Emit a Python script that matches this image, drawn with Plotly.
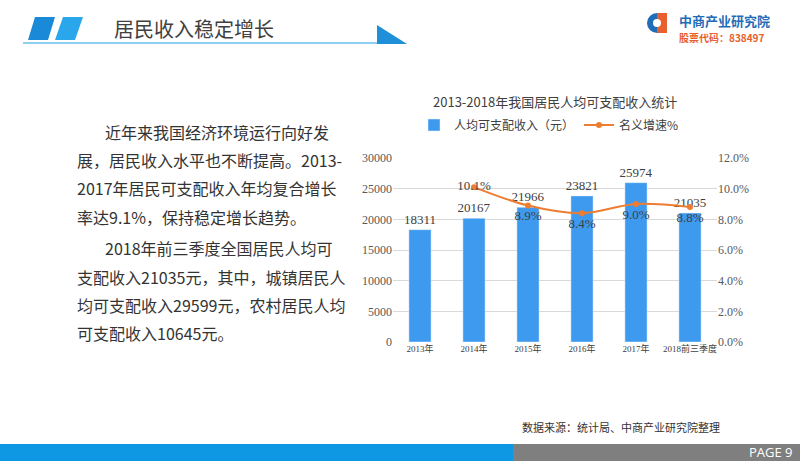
import plotly.graph_objects as go

# chart data
years = ["2013年", "2014年", "2015年", "2016年", "2017年", "2018前三季度"]
income = [18311, 20167, 21966, 23821, 25974, 21035]
growth_years = ["2014年", "2015年", "2016年", "2017年", "2018前三季度"]
growth = [0.101, 0.089, 0.084, 0.090, 0.088]
growth_pos = ["middle center", "bottom center", "bottom center", "bottom center", "bottom center"]

body_lines = [
    "近年来我国经济环境运行向好发",
    "展，居民收入水平也不断提高。2013-",
    "2017年居民可支配收入年均复合增长",
    "率达9.1%，保持稳定增长趋势。",
    "2018年前三季度全国居民人均可",
    "支配收入21035元，其中，城镇居民人",
    "均可支配收入29599元，农村居民人均",
    "可支配收入10645元。",
]
body_y = [132, 160, 188, 217, 248, 277, 305, 333]
body_x = [103, 75, 75, 75, 103, 75, 75, 75]

W, H = 800, 461
CJK = "Noto Sans CJK SC"
SERIF = "Liberation Serif, Noto Sans CJK SC"


def px(x):
    return x / W


def py(y):
    return 1 - y / H


fig = go.Figure()

fig.add_trace(go.Bar(
    x=years, y=income, name="人均可支配收入（元）",
    marker_color="#3D9AEE", width=0.41,
    text=income, textposition="outside", cliponaxis=False, constraintext="none",
    textfont=dict(family=SERIF, size=13, color="#404040"),
))
fig.add_trace(go.Scatter(
    x=growth_years, y=growth, name="名义增速%", yaxis="y2",
    mode="lines+markers+text",
    line=dict(color="#ED7D31", width=2, shape="spline"),
    marker=dict(color="#ED7D31", size=6),
    text=[f"{g * 100:.1f}%" for g in growth], textposition=growth_pos,
    textfont=dict(family=SERIF, size=13, color="#404040"),
    cliponaxis=False,
))

fig.update_layout(
    width=W, height=H, margin=dict(l=0, r=0, t=0, b=0),
    paper_bgcolor="white", plot_bgcolor="white",
    showlegend=True,
    legend=dict(orientation="h", x=px(414), y=py(125), xanchor="left", yanchor="middle",
                font=dict(family=CJK, size=12, color="#404040"), bgcolor="rgba(0,0,0,0)",
                itemwidth=30),
    xaxis=dict(domain=[px(393), px(717)], showline=False, ticks="", automargin=False,
               tickfont=dict(family=SERIF, size=9, color="#404040")),
    yaxis=dict(domain=[py(342), py(158)], range=[0, 30000], dtick=5000, tickformat="d",
               gridcolor="#D9D9D9", zeroline=False, showline=False, automargin=False,
               tickfont=dict(family=SERIF, size=12, color="#595959")),
    yaxis2=dict(overlaying="y", side="right", range=[0, 0.12], dtick=0.02,
                tickformat=".1%", showgrid=False, zeroline=False, automargin=False,
                tickfont=dict(family=SERIF, size=12, color="#595959")),
    bargap=0.59,
)

annotations = [
    dict(x=px(555), y=py(101), text="2013-2018年我国居民人均可支配收入统计",
         font=dict(family=CJK, size=13, color="#404040")),
    dict(x=px(112), y=py(28), text="居民收入稳定增长", xanchor="left",
         font=dict(family=CJK, size=20, color="#404040")),
    dict(x=px(677), y=py(20), text="<b>中商产业研究院</b>", xanchor="left",
         font=dict(family=CJK, size=13, color="#1F6DB8")),
    dict(x=px(677), y=py(37), text="<b>股票代码：838497</b>", xanchor="left",
         font=dict(family=CJK, size=10, color="#E8602C")),
    dict(x=px(520), y=py(427), text="数据来源：统计局、中商产业研究院整理", xanchor="left",
         font=dict(family=CJK, size=11, color="#333333")),
    dict(x=px(795), y=py(452), text="PAGE 9", xanchor="right",
         font=dict(family="Open Sans", size=13, color="white")),
]
for t, x, y in zip(body_lines, body_x, body_y):
    annotations.append(dict(x=px(x), y=py(y), text=t, xanchor="left",
                            font=dict(family=CJK, size=16, color="#333333")))
for a in annotations:
    a.update(xref="paper", yref="paper", showarrow=False)
    a.setdefault("xanchor", "center")
    a.setdefault("yanchor", "middle")
fig.update_layout(annotations=annotations)


def poly(pts, color):
    path = "M " + " L ".join(f"{px(x)},{py(y)}" for x, y in pts) + " Z"
    return dict(type="path", xref="paper", yref="paper", path=path,
                fillcolor=color, line=dict(width=0), layer="above")


shapes = [
    # header decoration
    poly([(35, 17), (55, 17), (48, 40), (28, 40)], "#1A8AD8"),
    poly([(63, 17), (83, 17), (75, 40), (55, 40)], "#2AA7EA"),
    dict(type="line", xref="paper", yref="paper", x0=px(23), x1=px(380), y0=py(43), y1=py(43),
         line=dict(color="#8ECFEF", width=2)),
    poly([(377, 25), (377, 44), (407, 44)], "#1E8FD8"),
    # logo icon
    dict(type="circle", xref="paper", yref="paper", x0=px(647), x1=px(667), y0=py(33), y1=py(13),
         fillcolor="#1F6DB8", line=dict(width=0)),
    poly([(657, 13), (667, 13), (667, 33), (657, 33)], "#E8602C"),
    dict(type="circle", xref="paper", yref="paper", x0=px(653), x1=px(661), y0=py(27), y1=py(19),
         fillcolor="white", line=dict(width=0)),
    # footer
    dict(type="rect", xref="paper", yref="paper", x0=0, x1=px(513), y0=0, y1=py(444),
         fillcolor="#0E97E3", line=dict(width=0), layer="below"),
    dict(type="rect", xref="paper", yref="paper", x0=px(513), x1=1, y0=0, y1=py(444),
         fillcolor="#7F7F7F", line=dict(width=0), layer="below"),
]
fig.update_layout(shapes=shapes)

# drop the default page margin so the figure sits at the window corner
fig.write_html("out.html", config={"displayModeBar": False},
               post_script="document.body.style.margin='0';")
